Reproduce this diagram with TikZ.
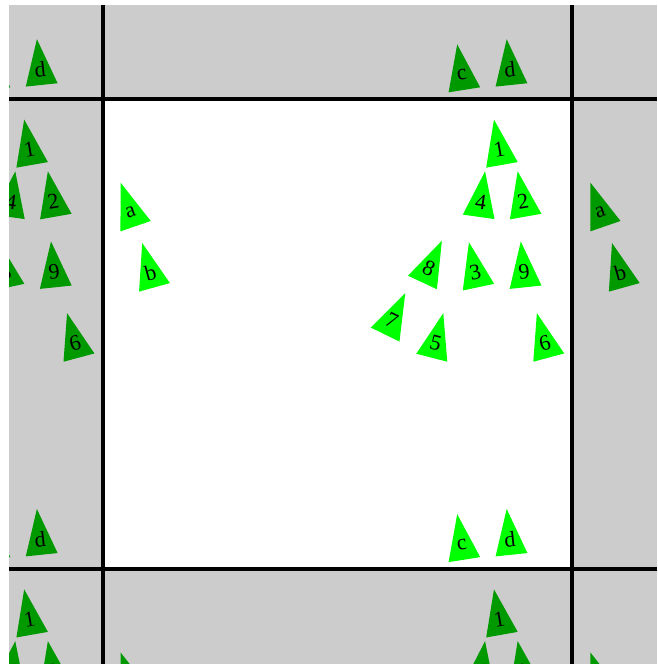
\documentclass[tikz,border=0pt]{standalone}
\usepackage{fontspec}
\setmainfont{Liberation Serif}
\definecolor{brightgreen}{RGB}{0,255,0}
\definecolor{copygreen}{RGB}{0,153,0}
\definecolor{tilegray}{RGB}{204,204,204}
\begin{document}
\begin{tikzpicture}[x=1pt,y=1pt,
  trilabel/.style={transform shape,inner sep=0pt,font=\fontsize{22}{22}\selectfont,text=black},
  border/.style={line width=4pt,draw=black}]
\def\P{469.8}
\useasboundingbox (0,0) rectangle (657,-664);
\begin{scope}
\clip (9,-5) rectangle (657,-664);
\fill[tilegray] (9,-5) rectangle (657,-664);
\fill[white] (102.5,-99.2) rectangle (572.3,-569);
\foreach \ox/\oxn in {-1/m,0/z,1/p}{
  \foreach \oy/\oyn in {-1/m,0/z,1/p}{
    \pgfmathtruncatemacro\isc{and(\ox==0,\oy==0)}
    \ifnum\isc=1 \def\col{brightgreen}\else\def\col{copygreen}\fi
    \foreach \nm/\x/\y/\a in {1/499.3/149.8/10, 2/523.0/201.5/10, 3/475.3/272.2/12,
        4/480.8/201.7/-8, 5/435.6/342.9/-14.5, 6/544.8/342.8/15, 7/391.8/320.8/-26,
        8/428.9/268.6/-25, 9/524.0/272.0/6, a/130.6/211.7/19, b/150.4/272.6/15.5,
        c/462.0/544.5/9, d/509.9/539.5/6}{
      \pgfmathsetmacro\cx{\x+\ox*\P}
      \pgfmathsetmacro\cy{\y+\oy*\P}
      \pgfmathtruncatemacro\vis{and(and(\cx>-26,\cx<692),and(\cy>-30,\cy<699))}
      \ifnum\vis=1
      \begin{scope}[shift={(\cx,-\cy)},rotate=\a]
        \fill[\col] (0,30.7) -- (-16,-15.3) -- (16,-15.3) -- cycle;
        \node[trilabel] (t\nm\oxn\oyn) at (0,0) {\nm};
      \end{scope}
      \fi
    }
  }
}
\draw[border] (102.5,-5) -- (102.5,-664);
\draw[border] (572.3,-5) -- (572.3,-664);
\draw[border] (9,-99.2) -- (657,-99.2);
\draw[border] (9,-569) -- (657,-569);
\end{scope}
\end{tikzpicture}
\end{document}
